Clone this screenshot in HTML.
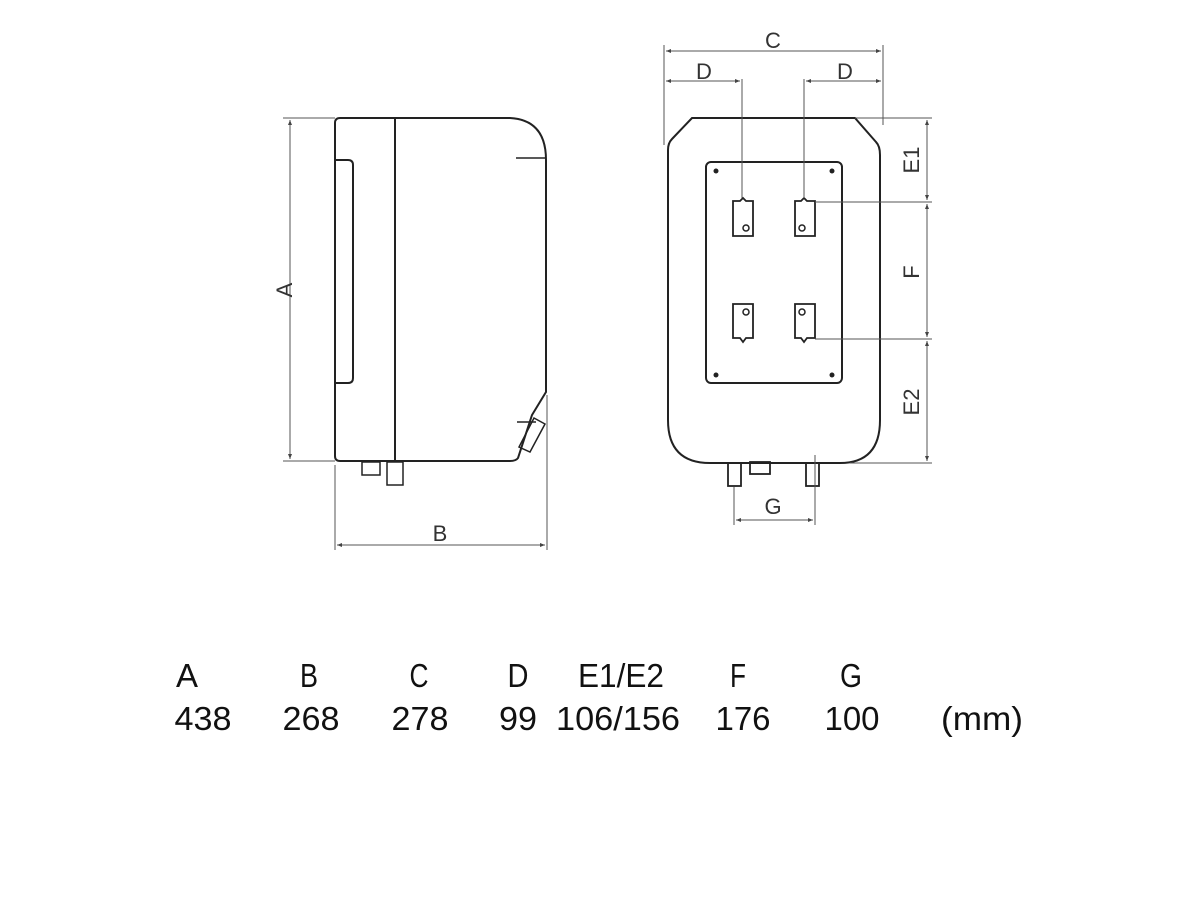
<!DOCTYPE html>
<html><head><meta charset="utf-8"><style>html,body{margin:0;padding:0;background:#fff}svg{display:block}</style></head>
<body>
<svg width="1200" height="900" viewBox="0 0 1200 900" xmlns="http://www.w3.org/2000/svg">
<defs>
<marker id="ar" viewBox="0 0 10 10" refX="10" refY="5" markerWidth="7" markerHeight="5" orient="auto-start-reverse"><path d="M0,1 L10,5 L0,9 z" fill="#444"/></marker>
</defs>
<g fill="none" stroke="#222" stroke-width="2">
<path d="M340,118 L510,118 Q546,120 546,160 L546,392 L532,415 L518,458 Q516,461 510,461 L340,461 Q335,461 335,456 L335,123 Q335,118 340,118 Z"/>
<line x1="395" y1="118" x2="395" y2="461"/>
<path d="M335,160 L348,160 Q353,160 353,165 L353,378 Q353,383 348,383 L335,383"/>
<line x1="516" y1="158" x2="545" y2="158" stroke-width="1.5"/>
<line x1="517" y1="422" x2="536" y2="422" stroke-width="1.5"/>
<path d="M534,418 L545,424 L530,452 L519,447 Z" stroke-width="1.5"/>
<rect x="362" y="462" width="18" height="13" stroke-width="1.5"/>
<rect x="387" y="462" width="16" height="23" stroke-width="1.5"/>
<path d="M692,118 L855,118 L876,142 Q880,146 880,155 L880,420 Q880,463 840,463 L710,463 Q668,463 668,420 L668,150 Q668,143 672,139 Z"/>
<rect x="706" y="162" width="136" height="221" rx="5"/>
<g stroke-width="1.8">
<path d="M733,201 L740,201 L743,198 L746,201 L753,201 L753,236 L733,236 Z"/>
<path d="M795,201 L801,201 L804,198 L807,201 L815,201 L815,236 L795,236 Z"/>
<path d="M733,304 L753,304 L753,338 L746,338 L743,342 L740,338 L733,338 Z"/>
<path d="M795,304 L815,304 L815,338 L807,338 L804,342 L801,338 L795,338 Z"/>
<rect x="728" y="463" width="13" height="23"/>
<rect x="806" y="463" width="13" height="23"/>
<rect x="750" y="462" width="20" height="12"/>
</g>
<g stroke-width="1.5"><circle cx="746" cy="228" r="3"/><circle cx="802" cy="228" r="3"/><circle cx="746" cy="312" r="3"/><circle cx="802" cy="312" r="3"/></g>
</g>
<g fill="#222"><circle cx="716" cy="171" r="2.5"/><circle cx="832" cy="171" r="2.5"/><circle cx="716" cy="375" r="2.5"/><circle cx="832" cy="375" r="2.5"/></g>
<g stroke="#555" stroke-width="1" fill="none">
<line x1="283" y1="118" x2="335" y2="118"/><line x1="283" y1="461" x2="335" y2="461"/>
<line x1="290" y1="120" x2="290" y2="459" marker-start="url(#ar)" marker-end="url(#ar)"/>
<line x1="335" y1="465" x2="335" y2="550"/><line x1="547" y1="395" x2="547" y2="550"/>
<line x1="337" y1="545" x2="545" y2="545" marker-start="url(#ar)" marker-end="url(#ar)"/>
<line x1="664" y1="45" x2="664" y2="145"/><line x1="883" y1="45" x2="883" y2="125"/>
<line x1="666" y1="51" x2="881" y2="51" marker-start="url(#ar)" marker-end="url(#ar)"/>
<line x1="666" y1="81" x2="740" y2="81" marker-start="url(#ar)" marker-end="url(#ar)"/>
<line x1="806" y1="81" x2="881" y2="81" marker-start="url(#ar)" marker-end="url(#ar)"/>
<line x1="742" y1="79" x2="742" y2="198"/><line x1="804" y1="79" x2="804" y2="198"/>
<line x1="855" y1="118" x2="932" y2="118"/><line x1="815" y1="202" x2="932" y2="202"/>
<line x1="815" y1="339" x2="932" y2="339"/><line x1="850" y1="463" x2="932" y2="463"/>
<line x1="927" y1="120" x2="927" y2="200" marker-start="url(#ar)" marker-end="url(#ar)"/>
<line x1="927" y1="204" x2="927" y2="337" marker-start="url(#ar)" marker-end="url(#ar)"/>
<line x1="927" y1="341" x2="927" y2="461" marker-start="url(#ar)" marker-end="url(#ar)"/>
<line x1="734" y1="487" x2="734" y2="525"/><line x1="815" y1="455" x2="815" y2="525"/>
<line x1="736" y1="520" x2="813" y2="520" marker-start="url(#ar)" marker-end="url(#ar)"/>
</g>
<g font-family="Liberation Sans, sans-serif" font-size="22" fill="#333" text-anchor="middle">
<text x="440" y="541">B</text>
<text x="773" y="48">C</text>
<text x="704" y="79">D</text>
<text x="845" y="79">D</text>
<text x="773" y="514">G</text>
<text transform="translate(292,290) rotate(-90)">A</text>
<text transform="translate(919,160) rotate(-90)">E1</text>
<text transform="translate(919,272) rotate(-90)">F</text>
<text transform="translate(919,402) rotate(-90)">E2</text>
</g>
<g font-family="Liberation Sans, sans-serif" font-size="33" fill="#111" text-anchor="middle">
<text x="187" y="687" textLength="22" lengthAdjust="spacingAndGlyphs">A</text>
<text x="309" y="687" textLength="18" lengthAdjust="spacingAndGlyphs">B</text>
<text x="419" y="687" textLength="19" lengthAdjust="spacingAndGlyphs">C</text>
<text x="518" y="687" textLength="21" lengthAdjust="spacingAndGlyphs">D</text>
<text x="621" y="687" textLength="86" lengthAdjust="spacingAndGlyphs">E1/E2</text>
<text x="738" y="687" textLength="16" lengthAdjust="spacingAndGlyphs">F</text>
<text x="851" y="687" textLength="22" lengthAdjust="spacingAndGlyphs">G</text>
<text x="203" y="730" textLength="57" lengthAdjust="spacingAndGlyphs">438</text>
<text x="311" y="730" textLength="57" lengthAdjust="spacingAndGlyphs">268</text>
<text x="420" y="730" textLength="57" lengthAdjust="spacingAndGlyphs">278</text>
<text x="518" y="730" textLength="38" lengthAdjust="spacingAndGlyphs">99</text>
<text x="618" y="730" textLength="124" lengthAdjust="spacingAndGlyphs">106/156</text>
<text x="743" y="730" textLength="55" lengthAdjust="spacingAndGlyphs">176</text>
<text x="852" y="730" textLength="55" lengthAdjust="spacingAndGlyphs">100</text>
<text x="982" y="730" textLength="82" lengthAdjust="spacingAndGlyphs">(mm)</text>
</g>
</svg>
</body></html>
